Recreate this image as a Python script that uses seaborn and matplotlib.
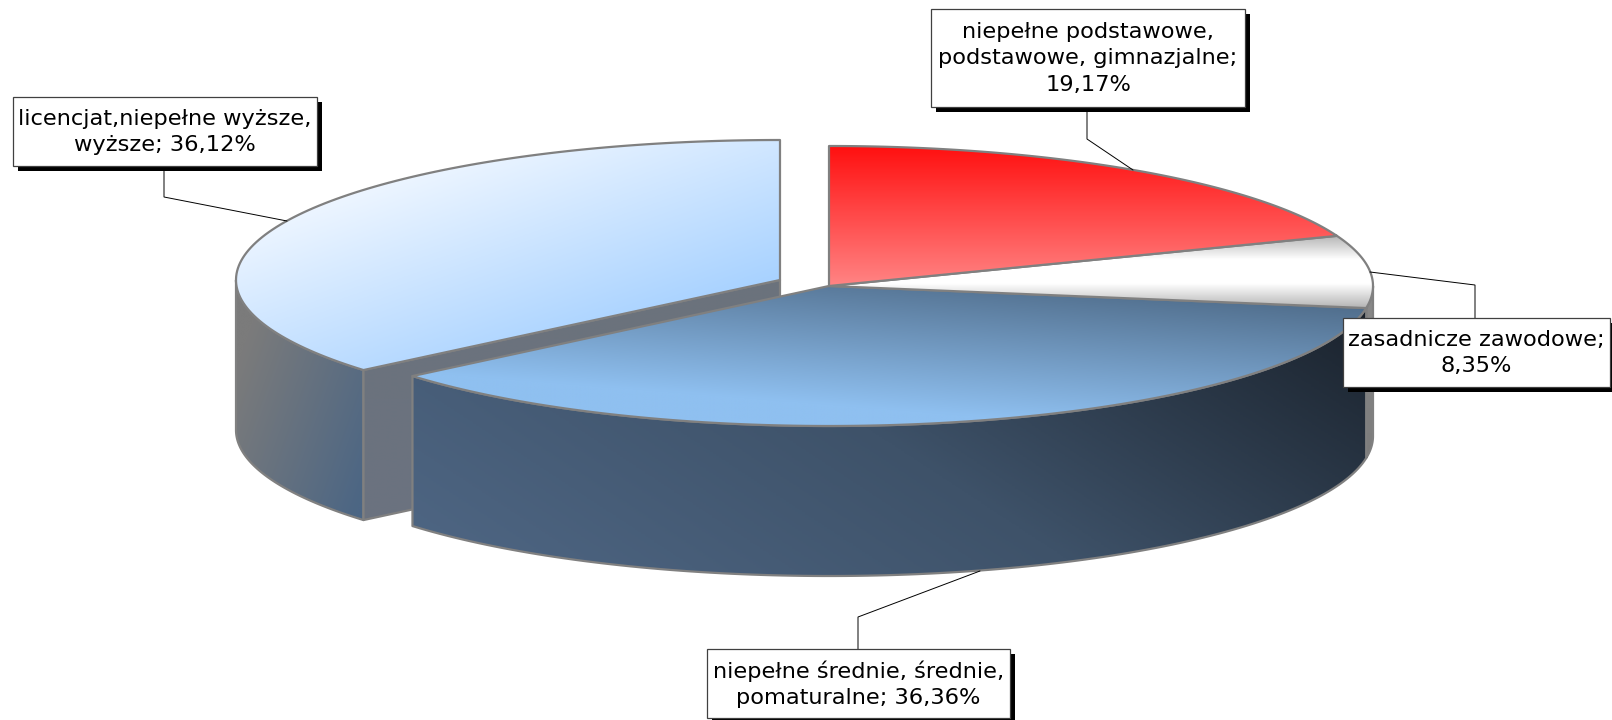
import numpy as np
import matplotlib
matplotlib.use("Agg")
import matplotlib.pyplot as plt
from matplotlib.patches import PathPatch, Rectangle
from matplotlib.path import Path
import seaborn as sns

# shares of the pie, clockwise from 12 o'clock
names = ["niepełne podstawowe,\npodstawowe, gimnazjalne;", "zasadnicze zawodowe;",
         "niepełne średnie, średnie,\npomaturalne;", "licencjat,niepełne wyższe,\nwyższe;"]
shares = [19.17, 8.35, 36.36, 36.12]
breaks = ["\n", "\n", " ", " "]

# label boxes: left, top, right, bottom (pixels)
boxes = [(931, 9, 1245, 107), (1343, 318, 1610, 387), (707, 649, 1010, 718), (13, 97, 317, 166)]
leaders = [[(1087, 107), (1087, 139), (1133, 170)],
           [(1475, 318), (1475, 285), (1370, 272)],
           [(858, 649), (858, 617), (980, 571)],
           [(164, 166), (164, 197), (287, 221)]]

cx, cy = 829, 286
rx, ry = 544, 140
depth = 150
blue_cx, blue_cy = 780, 280
edge = "#808080"

sns.set_theme(style="white")
plt.rcParams["font.family"] = "DejaVu Sans"

fig = plt.figure(figsize=(16.12, 7.2), dpi=100)
ax = fig.add_axes([0, 0, 1, 1])

edges = np.radians(np.concatenate([[0], np.cumsum(shares)]) * 3.6)
layer = [1]


def arc(t0, t1, x0, y0):
    t = np.linspace(t0, t1, 120)
    return x0 + rx * np.sin(t), y0 - ry * np.cos(t)


def fill(xs, ys, colors, stops, ux=0.0, uy=1.0):
    # gradient running along (ux, uy), in units of the shape's bounding box
    verts = np.column_stack([xs, ys])
    path = Path(np.vstack([verts, verts[0]]), closed=True)
    x0, x1, y0, y1 = xs.min(), xs.max(), ys.min(), ys.max()
    gx, gy = np.meshgrid(np.linspace(0, 1, 300), np.linspace(0, 1, 300))
    g = gx * ux + gy * uy
    if ux < 0:
        g = g - ux
    if uy < 0:
        g = g - uy
    g = np.clip((g - stops[0]) / (stops[1] - stops[0]), 0, 1)
    cmap = sns.blend_palette(colors, as_cmap=True)
    im = ax.imshow(g, cmap=cmap, vmin=0, vmax=1, extent=(x0, x1, y1, y0), aspect="auto",
                   interpolation="bilinear", zorder=layer[0])
    patch = PathPatch(path, fc="none", ec=edge, lw=1.6, joinstyle="round", zorder=layer[0] + 0.5)
    ax.add_patch(patch)
    im.set_clip_path(patch)
    layer[0] += 1


# exploded slice: outer wall, cut face, top
x, y = arc(edges[3], np.pi * 1.5, blue_cx, blue_cy)
fill(np.r_[x, x[::-1]], np.r_[y, y[::-1] + depth], ["#7b7b7b", "#4c6684"], (0.15, 0.95), 0.6, 0.4)
bx, by = x[0], y[0]
fill(np.array([blue_cx, bx, bx, blue_cx]), np.array([blue_cy, by, by + depth, blue_cy + depth]),
     ["#6b727c", "#6b7380"], (0, 1))
x, y = arc(edges[3], edges[4], blue_cx, blue_cy)
fill(np.r_[x, blue_cx], np.r_[y, blue_cy], ["#f6faff", "#a6d1ff"], (0.15, 0.8), 0.45, 0.55)

# walls of the pie
x, y = arc(np.pi / 2, edges[2], cx, cy)
fill(np.r_[x, x[::-1]], np.r_[y, y[::-1] + depth], ["#8a8a8a", "#7c7c7c"], (0, 1))
x, y = arc(edges[2], edges[3], cx, cy)
fill(np.r_[x, x[::-1]], np.r_[y, y[::-1] + depth], ["#1a222c", "#3e5269", "#4f6785"], (0, 1), -0.7, 0.3)

# top faces
x, y = arc(edges[2], edges[3], cx, cy)
fill(np.r_[x, cx], np.r_[y, cy], ["#4c6885", "#8fc0f0"], (0.05, 0.75), -0.35, 0.65)
x, y = arc(edges[1], edges[2], cx, cy)
fill(np.r_[x, cx], np.r_[y, cy], ["#b4b4b4", "#ffffff", "#ffffff", "#b4b4b4"], (0, 1))
x, y = arc(edges[0], edges[1], cx, cy)
fill(np.r_[x, cx], np.r_[y, cy], ["#ff1010", "#ff8484"], (0, 1))

# leader lines and labels
top = layer[0] + 1
for line in leaders:
    ax.plot(*zip(*line), color="black", lw=0.7, solid_joinstyle="miter", zorder=top)

for name, share, sep, (l, t, r, b) in zip(names, shares, breaks, boxes):
    ax.add_patch(Rectangle((l + 5, t + 5), r - l, b - t, fc="black", ec="none", zorder=top + 1))
    ax.add_patch(Rectangle((l, t), r - l, b - t, fc="white", ec="#404040", lw=0.9, zorder=top + 2))
    label = f"{name}{sep}{share:.2f}%".replace(".", ",")
    ax.text((l + r) / 2, (t + b) / 2 + 0.5, label, ha="center", va="center", fontsize=16.2,
            color="black", linespacing=1.4, zorder=top + 3)

ax.set_xlim(0, 1612)
ax.set_ylim(720, 0)
ax.axis("off")

fig.savefig("out.png", dpi=100, facecolor="white")
